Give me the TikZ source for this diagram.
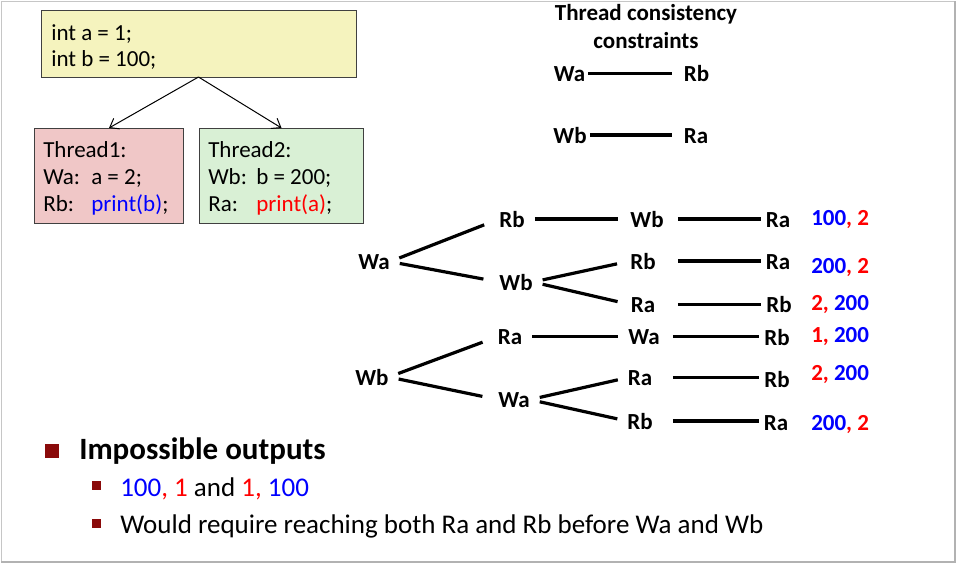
\documentclass[tikz,border=0pt]{standalone}
\usepackage{fontspec}
\setmainfont{Carlito}
\usetikzlibrary{arrows.meta}
\definecolor{boxY}{HTML}{F5F3BE}
\definecolor{boxP}{HTML}{F0C7C7}
\definecolor{boxG}{HTML}{D9F0D5}
\definecolor{edgeC}{HTML}{404040}
\definecolor{bul}{HTML}{8A0A0A}
\definecolor{vb}{RGB}{0,0,255}
\definecolor{vr}{RGB}{255,0,0}
\newcommand{\B}[1]{\textcolor{vb}{#1}}
\newcommand{\Rd}[1]{\textcolor{vr}{#1}}
\tikzset{
  codebox/.style={draw=edgeC, line width=0.75pt, inner sep=0pt},
  code/.style={anchor=base west, inner sep=0pt, font=\fontsize{17.25}{20}\selectfont},
  subitem/.style={anchor=base west, inner sep=0pt, font=\fontsize{20.25}{24}\selectfont},
  lbl/.style={anchor=base, inner sep=0pt, font=\fontsize{17.25}{20}\selectfont\bfseries},
  res/.style={anchor=base west, inner sep=0pt, font=\fontsize{17.25}{20}\selectfont\bfseries},
  thick line/.style={line width=2.4pt, line cap=butt},
  fork/.style={thick line, shorten <=7.5pt, shorten >=9pt},
  seg/.style={thick line},
  split/.style={-{Straight Barb[length=6pt,width=9pt]}, line width=0.75pt},
}
\begin{document}
\begin{tikzpicture}[x=0.75pt, y=-0.75pt]
\useasboundingbox (0,0) rectangle (957,564);
% slide frame
\draw[gray!45, line width=0.75pt] (1,1) rectangle (954,561);
\draw[gray!60, line width=1.5pt] (955,1) -- (955,562) -- (1,562);

% shared initialisation and the two threads
\node[codebox, fill=boxY, minimum width=236.25pt, minimum height=50.25pt, anchor=north west] (init) at (41,10) {};
\node[code] (i1) at (51,40) {int a = 1;};
\node[code] (i2) at (51,66) {int b = 100;};

\node[codebox, fill=boxP, minimum width=111.75pt, minimum height=71.25pt, anchor=north west] (t1) at (34,128) {};
\node[code] (t1a) at (43,157) {Thread1:};
\node[code] (t1b) at (43,184) {\makebox[36pt][l]{Wa:}a = 2;};
\node[code] (t1c) at (43,211) {\makebox[36pt][l]{Rb:}\B{print(b)};};

\node[codebox, fill=boxG, minimum width=123pt, minimum height=71.25pt, anchor=north west] (t2) at (199,128) {};
\node[code] (t2a) at (208,157) {Thread2:};
\node[code] (t2b) at (208,184) {\makebox[36pt][l]{Wb:}b = 200;};
\node[code] (t2c) at (208,211) {\makebox[36pt][l]{Ra:}\Rd{print(a)};};

\coordinate (fk) at (198.5,77);
\draw[split] (fk) -- (t1.north);
\draw[split] (fk) -- (t2.north);

% thread consistency constraints
\node[lbl] (ttl1) at (646,21) {Thread consistency};
\node[lbl] (ttl2) at (646,48) {constraints};
\node[lbl] (cwa) at (569.5,81) {Wa};
\node[lbl] (crb) at (696.5,81) {Rb};
\node[lbl] (cwb) at (570,143) {Wb};
\node[lbl] (cra) at (696,143) {Ra};
\draw[seg, shorten <=2.25pt, shorten >=9pt] (cwa.east) -- (cwa.east -| crb.west);
\draw[seg, shorten <=2.25pt, shorten >=9pt] (cwb.east) -- (cwb.east -| cra.west);

% orderings starting with Wa
\node[lbl] (wa0) at (374,269) {Wa};
\node[lbl] (rb1) at (512,227) {Rb};
\node[lbl] (wb1) at (516,290) {Wb};
\node[lbl] (wb2) at (647,227) {Wb};
\node[lbl] (rb2) at (643,269) {Rb};
\node[lbl] (ra2) at (643,312) {Ra};
\node[lbl] (ra3) at (778,227) {Ra};
\node[lbl] (ra3b) at (778,269) {Ra};
\node[lbl] (rb3) at (779,312) {Rb};

\draw[fork, shorten >=12pt] (wa0.east) -- (rb1.west);
\draw[fork, shorten >=12pt] (wa0.east) -- (wb1.west);
\draw[fork, shorten >=10pt] (wb1.east) -- (rb2.west);
\draw[fork, shorten >=10pt] (wb1.east) -- (ra2.west);
\draw[seg, shorten <=7.5pt, shorten >=9pt] (rb1.east) -- (rb1.east -| wb2.west);
\draw[seg, shorten <=10.5pt, shorten >=3.75pt] (wb2.east) -- (wb2.east -| ra3.west);
\draw[seg, shorten <=10.5pt, shorten >=3.75pt] (rb2.east -| wb2.east) -- (rb2.east -| ra3b.west);
\draw[seg, shorten <=10.5pt, shorten >=3.75pt] (ra2.east -| wb2.east) -- (ra2.east -| rb3.west);

% orderings starting with Wb
\node[lbl] (wb0) at (372,385) {Wb};
\node[lbl] (ra1) at (510,344) {Ra};
\node[lbl] (wa1) at (514,407) {Wa};
\node[lbl] (wa2) at (644,344) {Wa};
\node[lbl] (ra4) at (640,385) {Ra};
\node[lbl] (rb4) at (640,429) {Rb};
\node[lbl] (rb5) at (777,345) {Rb};
\node[lbl] (rb5b) at (777,387) {Rb};
\node[lbl] (ra5) at (776,430) {Ra};

\draw[fork, shorten >=12pt] (wb0.east) -- (ra1.west);
\draw[fork, shorten >=12pt] (wb0.east) -- (wa1.west);
\draw[fork, shorten >=7.5pt] (wa1.east) -- (ra4.west);
\draw[fork, shorten >=7.5pt] (wa1.east) -- (rb4.west);
\draw[seg, shorten <=7.5pt, shorten >=7.5pt] (ra1.east) -- (ra1.east -| wa2.west);
\draw[seg, shorten <=9.75pt, shorten >=3.75pt] (wa2.east) -- (wa2.east -| rb5.west);
\draw[seg, shorten <=9.75pt, shorten >=3.75pt] (ra4.east -| wa2.east) -- (ra4.east -| rb5b.west);
\draw[seg, shorten <=9.75pt, shorten >=3.75pt] (rb4.east -| wa2.east) -- (rb4.east -| ra5.west);

% printed values
\node[res] (o1) at (811,225) {\B{100}\Rd{, 2}};
\node[res] (o2) at (811,273) {\B{200}\Rd{, 2}};
\node[res] (o3) at (811,310) {\Rd{2,} \B{200}};
\node[res] (o4) at (811,342) {\Rd{1,} \B{200}};
\node[res] (o5) at (811,380) {\Rd{2,} \B{200}};
\node[res] (o6) at (811,430) {\B{200}\Rd{, 2}};

% bullet list
\fill[bul] (45,444) rectangle (59,458);
\node[anchor=base west, inner sep=0pt, font=\fontsize{23.25}{28}\selectfont\bfseries] (imp) at (79,459) {Impossible outputs};
\fill[bul] (92,481) rectangle (101,490);
\node[subitem] (s1) at (120,496) {\B{100}\Rd{, 1} and \Rd{1,} \B{100}};
\fill[bul] (92,519) rectangle (101,528);
\node[subitem] (s2) at (120,533) {Would require reaching both Ra and Rb before Wa and Wb};
\end{tikzpicture}
\end{document}
